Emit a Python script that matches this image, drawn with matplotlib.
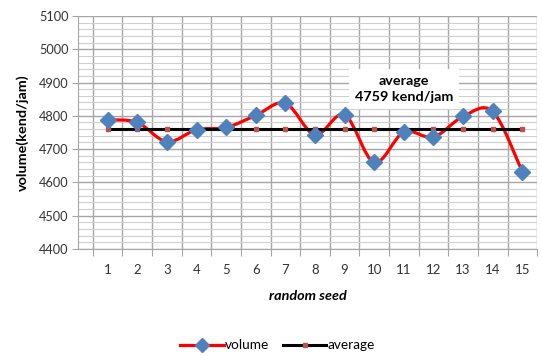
import matplotlib.pyplot as plt
import numpy as np
from matplotlib.path import Path
from matplotlib.patches import PathPatch
from matplotlib.lines import Line2D
from matplotlib.ticker import MultipleLocator, FixedLocator

plt.rcParams['font.family'] = ['Lato', 'DejaVu Sans']

seeds = list(range(1, 16))
volume = [4788, 4780, 4722, 4758, 4765, 4801, 4838, 4743,
          4803, 4660, 4751, 4736, 4798, 4813, 4632]
average = 4759

blue = '#4f81bd'
red = '#ff0000'

fig = plt.figure(figsize=(5.42, 3.56), dpi=100)
ax = fig.add_axes([0.144, 0.301, 0.847, 0.654])

ax.set_xlim(0, 15.5)
ax.set_ylim(4400, 5100)

# grid: category boundaries vertically, 100/20 steps horizontally
ax.xaxis.set_major_locator(FixedLocator(np.arange(0.5, 16, 1)))
ax.yaxis.set_major_locator(MultipleLocator(100))
ax.yaxis.set_minor_locator(MultipleLocator(20))
ax.grid(True, which='major', color='#a6a6a6', lw=1.0)
ax.grid(True, which='minor', axis='y', color='#cfcfcf', lw=0.8)
ax.set_axisbelow(True)
ax.set_xticklabels([])
for s in seeds:
    ax.text(s, -0.09, str(s), transform=ax.get_xaxis_transform(),
            ha='center', va='center', fontsize=9.5, color='#333333')
ax.tick_params(axis='x', length=5, color='#a6a6a6', direction='out')
ax.tick_params(axis='y', which='major', length=4, color='#a6a6a6',
               labelsize=9.2, labelcolor='#333333', pad=3)
ax.tick_params(axis='y', which='minor', length=0)
for side in ['top', 'right']:
    ax.spines[side].set_visible(False)
for side in ['left', 'bottom']:
    ax.spines[side].set_color('#a6a6a6')

# smoothed volume line (Catmull-Rom style bezier segments)
pts = np.column_stack([seeds, volume]).astype(float)
ext = np.vstack([pts[0], pts, pts[-1]])
verts = [tuple(pts[0])]
codes = [Path.MOVETO]
for i in range(1, len(ext) - 2):
    p0, p1, p2, p3 = ext[i - 1], ext[i], ext[i + 1], ext[i + 2]
    c1 = p1 + (p2 - p0) / 6
    c2 = p2 - (p3 - p1) / 6
    verts += [tuple(c1), tuple(c2), tuple(p2)]
    codes += [Path.CURVE4] * 3
ax.add_patch(PathPatch(Path(verts, codes), fill=False, edgecolor=red,
                       lw=2.3, zorder=3))
ax.plot(seeds, volume, ls='none', marker='D', ms=8.5, color=blue,
        markeredgecolor=blue, zorder=5)

# average line with small markers
ax.plot(seeds, [average] * len(seeds), color='black', lw=2.2, zorder=4)
ax.plot(seeds, [average] * len(seeds), ls='none', marker='s', ms=2.5,
        color='#c0504d', zorder=4)

ax.text(11.0, 4880, 'average\n%d kend/jam' % average, ha='center', va='center',
        fontsize=10.4, fontweight='bold', linespacing=1.45, zorder=6,
        bbox=dict(boxstyle='square,pad=0.4', fc='white', ec='none'))

ax.set_ylabel('volume(kend/jam)', fontsize=10.4, fontweight='bold', labelpad=7)
ax.set_xlabel('random seed', fontsize=10.4, fontweight='bold', style='italic',
              labelpad=21)

handles = [
    Line2D([], [], color=red, lw=2.3, marker='D', ms=7, mfc=blue, mec=blue),
    Line2D([], [], color='black', lw=2.2, marker='s', ms=2.5, mfc='#c0504d',
           mec='#c0504d'),
]
fig.legend(handles, ['volume', 'average'], loc='center', ncol=2,
           bbox_to_anchor=(0.512, 0.03), frameon=False, fontsize=9.8,
           handlelength=3.2, handletextpad=0.1, columnspacing=1.0)

fig.savefig('out.png', dpi=100)
